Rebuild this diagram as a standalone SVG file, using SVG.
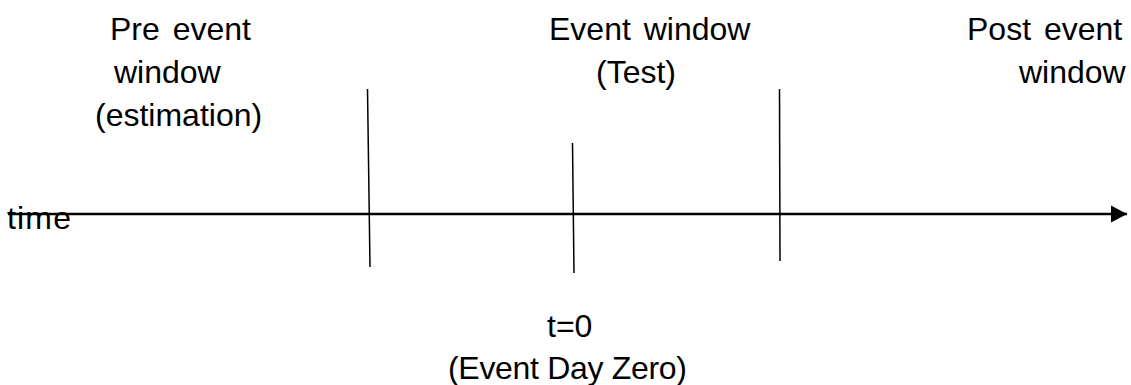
<svg xmlns="http://www.w3.org/2000/svg" width="1131" height="385" viewBox="0 0 1131 385">
<style>
text{font-family:"Liberation Sans",Arial,sans-serif;font-size:32px;fill:#000}
.ws{word-spacing:4px}
.tick{stroke:#000;stroke-width:1.5;fill:none}
.axis{stroke:#000;stroke-width:2.5;fill:none}
</style>
<defs>
<marker id="ah" markerUnits="userSpaceOnUse" markerWidth="18" markerHeight="18" refX="16" refY="9" orient="auto">
<path d="M0,0.5 L16,9 L0,17.5 Z" fill="#000"/>
</marker>
</defs>
<rect width="1131" height="385" fill="#fff"/>
<g id="connectors">
<line class="axis" x1="8" y1="214" x2="1127" y2="214" marker-end="url(#ah)"/>
<line class="tick" x1="367.5" y1="89" x2="370" y2="267"/>
<line class="tick" x1="572.5" y1="143" x2="574" y2="273"/>
<line class="tick" x1="779.5" y1="89" x2="780" y2="261"/>
</g>
<g id="pre-event">
<text class="ws" x="110" y="39.5">Pre event</text>
<text x="114" y="82.5">window</text>
<text x="95" y="125.5">(estimation)</text>
</g>
<g id="event-window">
<text class="ws" x="549" y="39.5">Event window</text>
<text x="596" y="82.5">(Test)</text>
</g>
<g id="post-event">
<text class="ws" x="967" y="39.5">Post event</text>
<text x="1019" y="82.5">window</text>
</g>
<g id="time-label">
<text x="7" y="228.5" textLength="64">time</text>
</g>
<g id="t-zero">
<text x="547" y="337">t=0</text>
<text x="448" y="378.5" textLength="239">(Event Day Zero)</text>
</g>
</svg>
